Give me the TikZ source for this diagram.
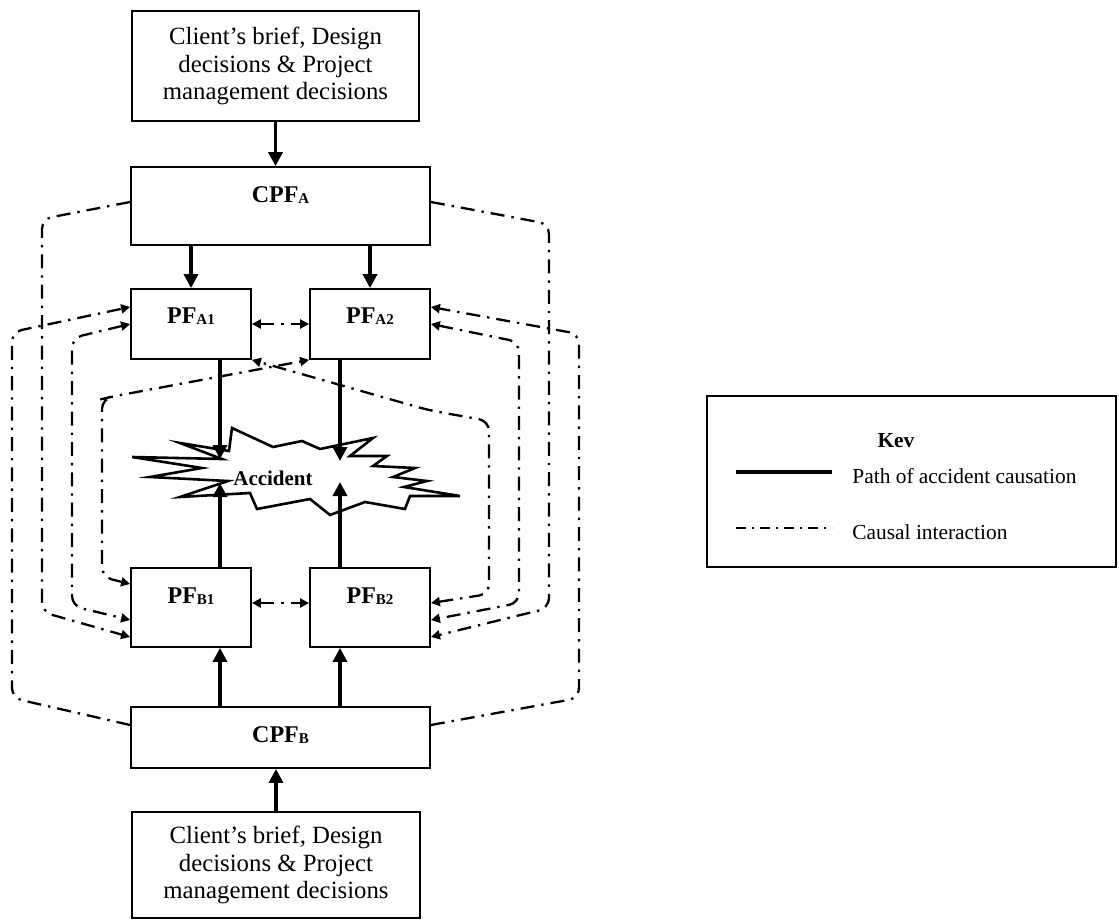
\documentclass[tikz,border=0pt]{standalone}
\usepackage{fontspec}
\setmainfont{Liberation Serif}
\usetikzlibrary{arrows.meta,calc}
\newcommand{\mysub}[1]{\raisebox{-0.6pt}{\fontsize{7.5}{9}\selectfont #1}}
\begin{document}
\begin{tikzpicture}[x=0.5pt,y=-0.5pt,
  box/.style={draw,line width=0.9pt,inner sep=0pt,align=center},
  bigtext/.style={font=\fontsize{12.4}{13.8}\selectfont},
  lbl/.style={font=\fontsize{12}{14}\selectfont\bfseries},
  causal/.style={line width=1.7pt,-{Triangle[length=7pt,width=7pt]}},
  inter/.style={line width=1.15pt,dash pattern=on 7pt off 3.5pt on 1.2pt off 3.5pt,rounded corners=5pt},
  ddto/.style={inter,-{Triangle[length=4.5pt,width=4.5pt]}},
  ddboth/.style={inter,{Triangle[length=4.5pt,width=4.5pt]}-{Triangle[length=4.5pt,width=4.5pt]}},
  burst/.style={line width=1.3pt,line join=miter},
  keytext/.style={font=\fontsize{10.7}{12}\selectfont,anchor=base west,inner sep=0pt}]
\useasboundingbox (0,0) rectangle (1119,920);

% boxes
\node[box,bigtext,minimum width=143.5pt,minimum height=55pt] (top) at (275.5,66)
  {Client’s brief, Design\\decisions \& Project\\management decisions};
\node[box,lbl,minimum width=149.5pt,minimum height=39pt,text height=8pt,text depth=12pt] (cpfa) at (280.5,206) {CPF\mysub{A}};
\node[box,lbl,minimum width=60pt,minimum height=35pt,text height=8pt,text depth=9pt] (pfa1) at (191,324) {PF\mysub{A1}};
\node[box,lbl,minimum width=60pt,minimum height=35pt,text height=8pt,text depth=9pt] (pfa2) at (370,324) {PF\mysub{A2}};
\node[box,lbl,minimum width=60pt,minimum height=39.5pt,text height=8pt,text depth=12.5pt] (pfb1) at (191,607.5) {PF\mysub{B1}};
\node[box,lbl,minimum width=60pt,minimum height=39.5pt,text height=8pt,text depth=12.5pt] (pfb2) at (370,607.5) {PF\mysub{B2}};
\node[box,lbl,minimum width=149.5pt,minimum height=30.5pt,text height=8pt,text depth=3.5pt] (cpfb) at (280.5,737.5) {CPF\mysub{B}};
\node[box,bigtext,minimum width=144pt,minimum height=53pt] (bot) at (276,865)
  {Client’s brief, Design\\decisions \& Project\\management decisions};

% accident burst
\draw[burst] (132,457) -- (222,459) -- (180,443) -- (229,451) -- (232,428) -- (273,447)
  -- (302,441) -- (320,449) -- (373,438) -- (350,456) -- (387,456) -- (373,466)
  -- (415,468) -- (393,477) -- (427,481) -- (404,487) -- (460,496) -- (410,496)
  -- (405,509) -- (365,502) -- (330,515) -- (310,499) -- (257,509) -- (250,493)
  -- (180,497) -- (228,481) -- (150,477) -- (202,468) -- cycle;
\node[font=\fontsize{10.5}{12}\selectfont\bfseries,inner sep=0pt] (acc) at (273,478) {Accident};
\coordinate (accTL) at (220,459);
\coordinate (accTR) at (340,461);
\coordinate (accBL) at (220,483);
\coordinate (accBR) at (340,482);

% solid causal arrows
\draw[causal] (top.south) -- (top.south |- cpfa.north);
\draw[causal] (pfa1.north |- cpfa.south) -- (pfa1.north);
\draw[causal] (pfa2.north |- cpfa.south) -- (pfa2.north);
\draw[causal] (pfa1.south -| accTL) -- (accTL);
\draw[causal] (pfa2.south -| accTR) -- (accTR);
\draw[causal] (pfb1.north -| accBL) -- (accBL);
\draw[causal] (pfb2.north -| accBR) -- (accBR);
\draw[causal] (cpfb.north -| accBL) -- (pfb1.south -| accBL);
\draw[causal] (cpfb.north -| accBR) -- (pfb2.south -| accBR);
\draw[causal] (bot.north) -- (bot.north |- cpfb.south);

% causal interactions (left)
\draw[ddto] ([yshift=6.25pt]cpfb.west) -- (12,698) -- (12,332) -- ([yshift=8.5pt]pfa1.west);
\draw[ddto] ([yshift=2pt]cpfa.west) -- (42,219) -- (42,612) -- ([yshift=-14.75pt]pfb1.west);
\draw[ddboth] (pfa1.west) -- (72,338) -- (72,606) -- ([yshift=-6.25pt]pfb1.west);
\draw[ddboth] ([yshift=11.75pt]pfb1.west) -- (102,577) -- (102,399) -- (110,397) -- (pfa2.south west);
% causal interactions (right)
\draw[ddto] ([yshift=6.25pt]cpfb.east) -- (579,698) -- (579,334) -- ([yshift=8.5pt]pfa2.east);
\draw[ddto] ([yshift=2pt]cpfa.east) -- (549,224) -- (549,608) -- ([yshift=-14.75pt]pfb2.east);
\draw[ddboth] (pfa2.east) -- (519,342) -- (519,603) -- ([yshift=-6.25pt]pfb2.east);
\draw[ddboth] ([yshift=2.25pt]pfb2.east) -- (489,594) -- (489,421) -- (428,410) -- (pfa1.south east);
% horizontal interactions
\draw[ddboth] (pfa1.east) -- (pfa2.west);
\draw[ddboth] ([yshift=2.25pt]pfb1.east) -- ([yshift=2.25pt]pfb2.west);

% key
\node[box,minimum width=204.5pt,minimum height=85.5pt] (key) at (911.5,481.5) {};
\node[font=\fontsize{10.7}{12}\selectfont\bfseries,anchor=base,inner sep=0pt] (keyhead) at (896,447) {Kev};
\coordinate (k1a) at (736,472);
\coordinate (k1b) at (832,472);
\coordinate (k2a) at (736,528);
\coordinate (k2b) at (832,528);
\draw[line width=2pt] (k1a) -- (k1b);
\draw[line width=1.3pt,dash pattern=on 5pt off 3pt on 1pt off 3pt] (k2a) -- (k2b);
\node[keytext] (k1t) at (852,483) {Path of accident causation};
\node[keytext] (k2t) at (852,539) {Causal interaction};
\end{tikzpicture}
\end{document}
